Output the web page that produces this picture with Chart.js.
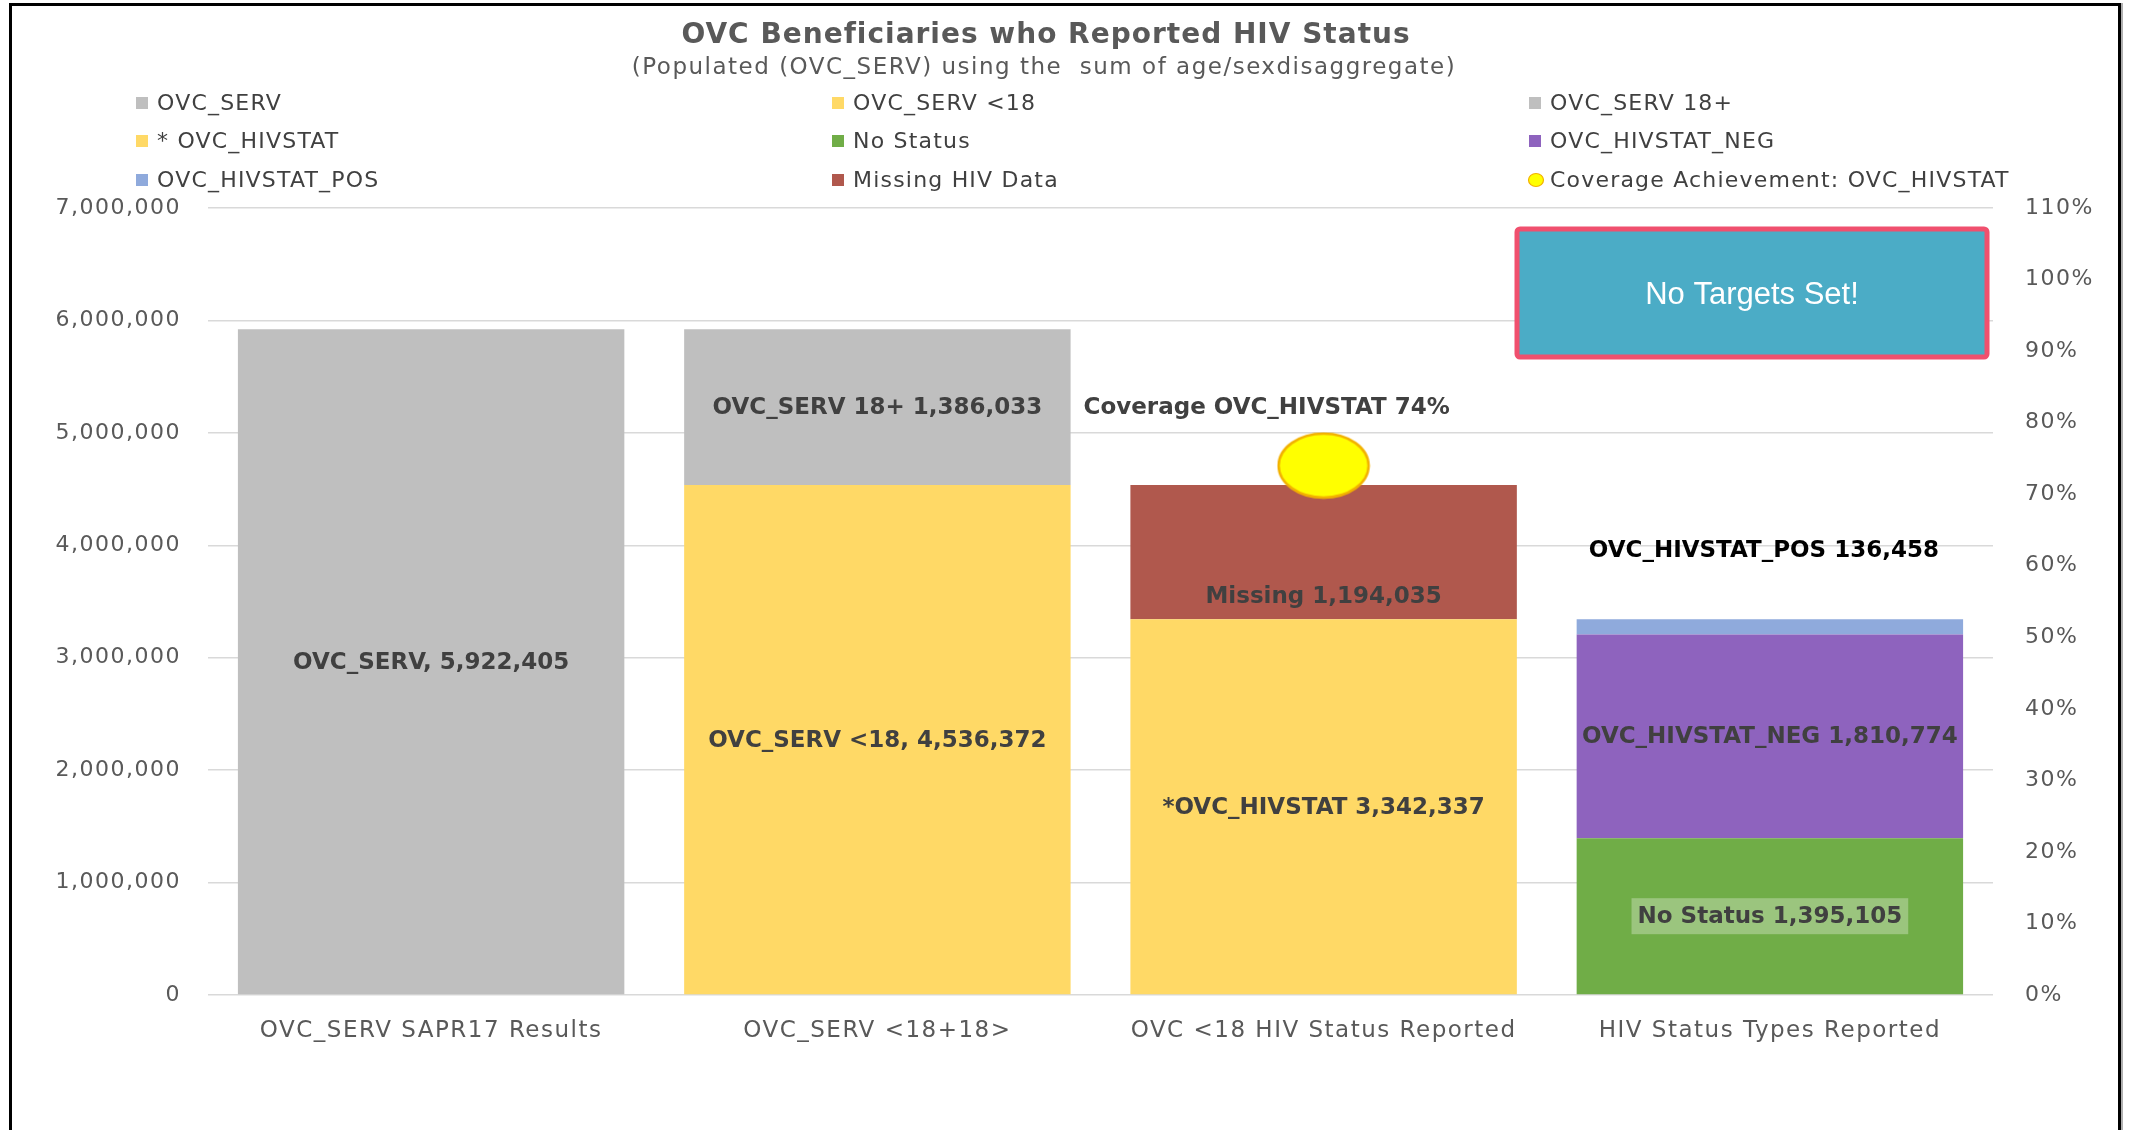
<!DOCTYPE html>
<html>
<head>
<meta charset="utf-8">
<title>OVC Beneficiaries who Reported HIV Status</title>
<script src="https://cdn.jsdelivr.net/npm/chart.js@4.4.1/dist/chart.umd.min.js"></script>
<style>
  html, body { margin: 0; padding: 0; background: #fff; overflow: hidden; }
  #wrap { position: relative; width: 2129px; height: 1130px; }
  #wrap canvas { position: absolute; left: 0; top: 0; }
  #frame {
    position: absolute; left: 9px; top: 3px; width: 2106px; height: 1200px;
    border: 3px solid #000; border-bottom: none;
    box-shadow: 2px 0 0 #b0b0b0; pointer-events: none;
  }
</style>
</head>
<body>
<div id="wrap">
  <canvas id="chart" width="2129" height="1130"></canvas>
  <div id="frame"></div>
</div>
<script>
// ---- data ----
const CATEGORIES = [
  'OVC_SERV SAPR17 Results',
  'OVC_SERV <18+18>',
  'OVC <18 HIV Status Reported',
  'HIV Status Types Reported'
];

const OVC_SERV         = [5922405, null, null, null];
const OVC_SERV_UNDER18 = [null, 4536372, null, null];
const OVC_SERV_18PLUS  = [null, 1386033, null, null];
const OVC_HIVSTAT      = [null, null, 3342337, null];
const NO_STATUS        = [null, null, null, 1395105];
const HIVSTAT_NEG      = [null, null, null, 1810774];
const HIVSTAT_POS      = [null, null, null, 136458];
const MISSING_HIV      = [null, null, 1194035, null];
const COVERAGE         = [null, null, 0.74, null];

const COUNT_AXIS_MAX  = 7000000;
const COUNT_AXIS_STEP = 1000000;
const PCT_AXIS_MAX    = 1.1;
const PCT_AXIS_STEP   = 0.1;

const TITLE    = 'OVC Beneficiaries who Reported HIV Status';
const SUBTITLE = '(Populated (OVC_SERV) using the  sum of age/sexdisaggregate)';
const NOTE     = 'No Targets Set!';

// ---- look ----
const FONT = '"DejaVu Sans", Verdana, sans-serif';
const TEXT_GREY = '#595959';
const LABEL_DARK = '#404040';

const COLORS = {
  serv: '#BFBFBF',
  yellow: '#FFD966',
  green: '#70AD47',
  purple: '#8E63BE',
  pos: '#8FAADC',
  missing: '#B0584D',
  coverage: '#FFFF00',
  coverageEdge: '#F2B100'
};

const fmt = v => Number(v).toLocaleString('en-US');

/**
 * Ellipse marker used for the coverage point (the reference draws it squashed)
 */
function makeEllipse (w, h) {
  const c = document.createElement('canvas');
  c.width = w + 4;
  c.height = h + 4;
  const ctx = c.getContext('2d');
  ctx.beginPath();
  ctx.ellipse(c.width / 2, c.height / 2, w / 2, h / 2, 0, 0, Math.PI * 2);
  ctx.fillStyle = COLORS.coverage;
  ctx.fill();
  ctx.lineWidth = 2.5;
  ctx.strokeStyle = COLORS.coverageEdge;
  ctx.stroke();
  return c;
}

const coverageMarker = makeEllipse(90, 64);

// ---- plugins ----

/**
 * The reference text is set wider than DejaVu; widen axis labels a little
 */
const spacingPlugin = {
  id: 'spacing',
  beforeDraw (chart) {
    chart.ctx.letterSpacing = '1.5px';
  }
};

/**
 * Title, subtitle and the 3-column legend
 */
const headerPlugin = {
  id: 'header',
  afterDraw (chart) {
    const { ctx } = chart;
    ctx.save();
    ctx.textAlign = 'center';
    ctx.textBaseline = 'middle';
    ctx.fillStyle = TEXT_GREY;
    ctx.letterSpacing = '1px';
    ctx.font = `bold 28px ${FONT}`;
    ctx.fillText(TITLE, 1046, 36);
    ctx.letterSpacing = '1.5px';
    ctx.font = `23px ${FONT}`;
    ctx.fillText(SUBTITLE, 1044, 68);

    const cols = [136, 832, 1529];
    const rows = [103, 141, 180];
    ctx.textAlign = 'left';
    ctx.letterSpacing = '1.2px';
    ctx.font = `22px ${FONT}`;
    chart.data.datasets.forEach((ds, i) => {
      const x = cols[i % 3];
      const y = rows[Math.floor(i / 3)];
      if (ds.type === 'line') {
        ctx.beginPath();
        ctx.ellipse(x + 7, y, 7.5, 6.5, 0, 0, Math.PI * 2);
        ctx.fillStyle = COLORS.coverage;
        ctx.fill();
        ctx.lineWidth = 1.2;
        ctx.strokeStyle = COLORS.coverageEdge;
        ctx.stroke();
      } else {
        ctx.fillStyle = ds.backgroundColor;
        ctx.fillRect(x, y - 6, 12, 12);
      }
      ctx.fillStyle = LABEL_DARK;
      ctx.fillText(ds.label, x + 21, y + 1);
    });
    ctx.restore();
  }
};

/**
 * Value labels for bar segments and the coverage point
 */
const valueLabelPlugin = {
  id: 'valueLabels',
  afterDatasetsDraw (chart) {
    const { ctx } = chart;
    ctx.save();
    ctx.letterSpacing = '0px';
    ctx.textAlign = 'center';
    ctx.textBaseline = 'middle';
    ctx.font = `bold 23px ${FONT}`;

    chart.data.datasets.forEach((ds, di) => {
      const opt = ds.valueLabel;
      if (!opt) return;
      const meta = chart.getDatasetMeta(di);
      meta.data.forEach((el, idx) => {
        const v = ds.data[idx];
        if (v === null || v === undefined) return;
        const text = opt.text(v);
        const x = el.x + (opt.dx || 0);
        let y;
        if (opt.anchor === 'point' || opt.anchor === 'top') {
          y = el.y + (opt.dy || 0);
        } else if (opt.anchor === 'base') {
          y = el.base + (opt.dy || 0);
        } else {
          y = (el.y + el.base) / 2 + (opt.dy || 0);
        }
        if (opt.bg) {
          const w = ctx.measureText(text).width + 12;
          ctx.fillStyle = opt.bg;
          ctx.fillRect(x - w / 2, y - 18, w, 36);
        }
        ctx.fillStyle = opt.color || LABEL_DARK;
        ctx.fillText(text, x, y + 1);
      });
    });
    ctx.restore();
  }
};

/**
 * "No Targets Set!" callout in the top right of the plot
 */
const notePlugin = {
  id: 'note',
  afterDraw (chart) {
    const { ctx, chartArea } = chart;
    const w = 470, h = 128;
    const x = chartArea.right - 6 - w;
    const y = chartArea.top + 21;
    ctx.save();
    ctx.letterSpacing = '0px';
    ctx.beginPath();
    ctx.roundRect(x, y, w, h, 3);
    ctx.fillStyle = '#4BACC6';
    ctx.fill();
    ctx.lineWidth = 5;
    ctx.strokeStyle = '#F0506E';
    ctx.stroke();
    ctx.fillStyle = '#FFFFFF';
    ctx.font = '31px "Liberation Sans", Arial, sans-serif';
    ctx.textAlign = 'center';
    ctx.textBaseline = 'middle';
    ctx.fillText(NOTE, x + w / 2, y + h / 2 + 2);
    ctx.restore();
  }
};

// ---- datasets ----
const bar = (label, data, color, valueLabel) => ({
  type: 'bar',
  label,
  data,
  backgroundColor: color,
  borderWidth: 0,
  yAxisID: 'y',
  valueLabel
});

const datasets = [
  bar('OVC_SERV', OVC_SERV, COLORS.serv,
    { text: v => `OVC_SERV, ${fmt(v)}` }),
  bar('OVC_SERV <18', OVC_SERV_UNDER18, COLORS.yellow,
    { text: v => `OVC_SERV <18, ${fmt(v)}` }),
  bar('OVC_SERV 18+', OVC_SERV_18PLUS, COLORS.serv,
    { text: v => `OVC_SERV 18+ ${fmt(v)}` }),
  bar('* OVC_HIVSTAT', OVC_HIVSTAT, COLORS.yellow,
    { text: v => `*OVC_HIVSTAT ${fmt(v)}` }),
  bar('No Status', NO_STATUS, COLORS.green,
    { text: v => `No Status ${fmt(v)}`, bg: 'rgba(255,255,255,0.3)' }),
  bar('OVC_HIVSTAT_NEG', HIVSTAT_NEG, COLORS.purple,
    { text: v => `OVC_HIVSTAT_NEG ${fmt(v)}` }),
  bar('OVC_HIVSTAT_POS', HIVSTAT_POS, COLORS.pos,
    { text: v => `OVC_HIVSTAT_POS ${fmt(v)}`, anchor: 'top', dy: -69, dx: -6, color: '#000000' }),
  bar('Missing HIV Data', MISSING_HIV, COLORS.missing,
    { text: v => `Missing ${fmt(v)}`, anchor: 'base', dy: -23 }),
  {
    type: 'line',
    label: 'Coverage Achievement: OVC_HIVSTAT',
    data: COVERAGE,
    yAxisID: 'y1',
    showLine: false,
    pointStyle: coverageMarker,
    pointRadius: 32,
    backgroundColor: COLORS.coverage,
    borderColor: COLORS.coverageEdge,
    order: -1,
    valueLabel: {
      text: v => `Coverage OVC_HIVSTAT ${Math.round(v * 100)}%`,
      anchor: 'point', dx: -57, dy: -59
    }
  }
];

// ---- chart ----
Chart.defaults.font.family = FONT;
Chart.defaults.color = TEXT_GREY;

new Chart(document.getElementById('chart'), {
  data: { labels: CATEGORIES, datasets },
  options: {
    responsive: false,
    devicePixelRatio: 1,
    animation: false,
    layout: { padding: { top: 208, bottom: 75, left: 0, right: 0 } },
    datasets: {
      bar: { barPercentage: 0.866, categoryPercentage: 1 }
    },
    plugins: {
      legend: { display: false },
      title: { display: false },
      tooltip: { enabled: false }
    },
    scales: {
      x: {
        stacked: true,
        grid: { display: false },
        border: { display: false },
        ticks: { padding: 14, font: { size: 23 }, color: TEXT_GREY, maxRotation: 0 },
        afterFit: s => { s.height = 60; }
      },
      y: {
        position: 'left',
        stacked: true,
        min: 0,
        max: COUNT_AXIS_MAX,
        grid: { color: '#D9D9D9', lineWidth: 1.5, drawTicks: false },
        border: { display: false },
        ticks: {
          stepSize: COUNT_AXIS_STEP,
          padding: 27,
          font: { size: 22 },
          color: TEXT_GREY,
          callback: v => fmt(v)
        },
        afterFit: s => { s.width = 208; }
      },
      y1: {
        position: 'right',
        min: 0,
        max: PCT_AXIS_MAX,
        grid: { display: false, drawTicks: false },
        border: { display: false },
        ticks: {
          stepSize: PCT_AXIS_STEP,
          padding: 32,
          font: { size: 22 },
          color: TEXT_GREY,
          callback: v => `${Math.round(v * 100)}%`
        },
        afterFit: s => { s.width = 136; }
      }
    }
  },
  plugins: [spacingPlugin, headerPlugin, valueLabelPlugin, notePlugin]
});
</script>
</body>
</html>
